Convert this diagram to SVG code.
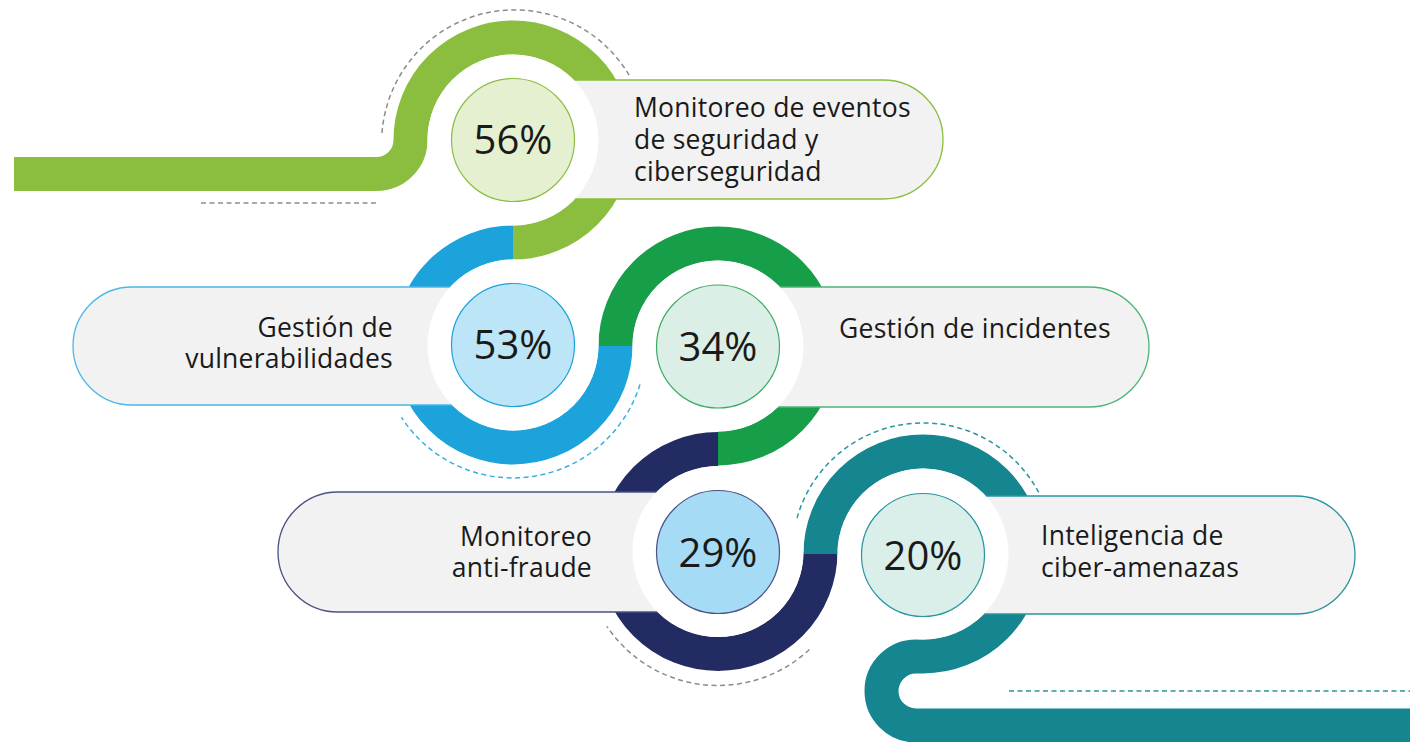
<svg xmlns="http://www.w3.org/2000/svg" width="1417" height="742" viewBox="0 0 1417 742">
<style>
.band{fill:none;stroke-width:34;stroke-linecap:butt}
.pill{fill:#F2F2F2;stroke-width:1.3}
.hole{fill:#FFFFFF}
.pct{font-family:"Open Sans","Noto Sans","Liberation Sans",sans-serif;font-size:40px;font-weight:400;fill:#1A1A1A;text-anchor:middle}
.lbl{font-family:"Open Sans","Noto Sans","Liberation Sans",sans-serif;font-size:26.5px;font-weight:500;letter-spacing:0.25px;fill:#1A1A1A}
.r{text-anchor:end}
.dash{fill:none;stroke-width:1.5;stroke-dasharray:5 3.5}
</style>
<rect width="1417" height="742" fill="#FFFFFF"/>
<g id="connectors">
<path class="band" stroke="#8BBE3F" d="M14 174 H376.5 A34 34 0 0 0 410.5 140 A102.5 102.5 0 0 1 513 37.5 A102.5 102.5 0 0 1 615.5 140 A102.5 102.5 0 0 1 513 242.5"/>
<path class="band" stroke="#1CA3DC" d="M513 242.5 A102.5 102.5 0 0 0 410.5 345 A102.5 102.5 0 0 0 513 447.5 A102.5 102.5 0 0 0 615.5 345"/>
<path class="band" stroke="#169E49" d="M615.5 346 A102.5 102.5 0 0 1 718 243.5 A102.5 102.5 0 0 1 820.5 346 A102.5 102.5 0 0 1 718 448.5"/>
<path class="band" stroke="#232B63" d="M718 449 A102.5 102.5 0 0 0 615.5 551.5 A102.5 102.5 0 0 0 718 654 A102.5 102.5 0 0 0 820.5 551.5"/>
<path class="band" stroke="#158690" d="M820.5 554 A102.5 102.5 0 0 1 923 451.5 A102.5 102.5 0 0 1 1025.5 554 A102.5 102.5 0 0 1 923 656.5 H916 A34.5 34.5 0 0 0 916 725.5 H1410"/>
</g>
<g id="decor">
<path class="dash" stroke="#8C8C8C" d="M382 133 A133 133 0 0 1 629.3 75.5"/>
<path class="dash" stroke="#8C8C8C" d="M201 203 H376"/>
<path class="dash" stroke="#3AAEE0" d="M644 368 A133 133 0 0 1 401.5 417.4"/>
<path class="dash" stroke="#8C8C8C" d="M809.4 649.5 A134 134 0 0 1 606.9 626.4"/>
<path class="dash" stroke="#2A95A0" d="M792 551.7 A131 131 0 0 1 1038.7 492.5"/>
<path class="dash" stroke="#2A95A0" d="M1009 691 H1410"/>
</g>
<g id="node-56">
<path class="pill" stroke="#8BBE3F" d="M513 80 H883.5 A59.5 59.5 0 0 1 883.5 199 H513 Z"/>
<circle class="hole" cx="513" cy="140" r="85.5"/>
<circle cx="513" cy="140" r="61.5" fill="#E5F0D0" stroke="#8BBE3F" stroke-width="1.2"/>
<text class="pct" x="513" y="154">56%</text>
<text class="lbl" x="634" y="117">Monitoreo de eventos<tspan x="634" dy="32">de seguridad y</tspan><tspan x="634" dy="32">ciberseguridad</tspan></text>
</g>
<g id="node-53">
<path class="pill" stroke="#4DB6E6" d="M513 287 H132 A59 59 0 0 0 132 405 H513 Z"/>
<circle class="hole" cx="513" cy="345" r="85.5"/>
<circle cx="513" cy="345" r="61.5" fill="#BDE5F8" stroke="#1CA3DC" stroke-width="1.2"/>
<text class="pct" x="513" y="359">53%</text>
<text class="lbl r" x="393" y="337">Gestión de<tspan x="393" dy="31">vulnerabilidades</tspan></text>
</g>
<g id="node-34">
<path class="pill" stroke="#4DB574" d="M718 287 H1089 A60 60 0 0 1 1089 407 H718 Z"/>
<circle class="hole" cx="718" cy="346" r="85.5"/>
<circle cx="718" cy="346.5" r="61.5" fill="#DBEFE6" stroke="#3DAA63" stroke-width="1.2"/>
<text class="pct" x="718" y="361">34%</text>
<text class="lbl" x="839" y="338">Gestión de incidentes</text>
</g>
<g id="node-29">
<path class="pill" stroke="#4A5185" d="M718 492 H338 A60 60 0 0 0 338 612 H718 Z"/>
<circle class="hole" cx="718" cy="551.5" r="85.5"/>
<circle cx="718" cy="552" r="61.5" fill="#A5DBF5" stroke="#4A5185" stroke-width="1.2"/>
<text class="pct" x="718" y="566.5">29%</text>
<text class="lbl r" x="592" y="546">Monitoreo<tspan x="592" dy="31">anti-fraude</tspan></text>
</g>
<g id="node-20">
<path class="pill" stroke="#2A95A0" d="M923 496 H1296 A59 59 0 0 1 1296 614 H923 Z"/>
<circle class="hole" cx="923" cy="554" r="85.5"/>
<circle cx="923" cy="555" r="61.5" fill="#DAEFEA" stroke="#2A95A0" stroke-width="1.2"/>
<text class="pct" x="923" y="569.5">20%</text>
<text class="lbl" x="1041" y="545">Inteligencia de<tspan x="1041" dy="32">ciber-amenazas</tspan></text>
</g>
</svg>
